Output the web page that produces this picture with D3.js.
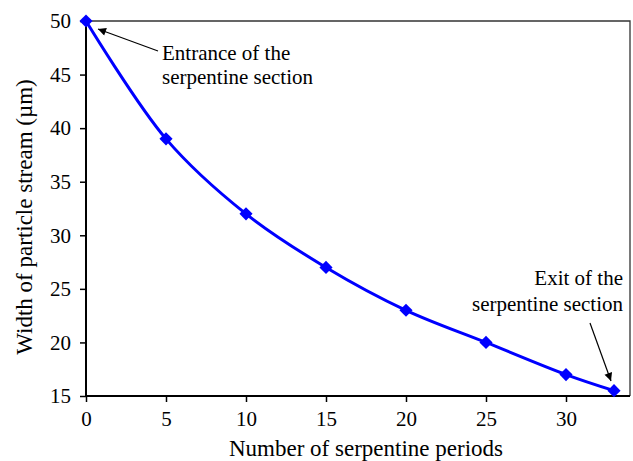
<!DOCTYPE html>
<html>
<head>
<meta charset="utf-8">
<script src="https://cdn.jsdelivr.net/npm/d3@7"></script>
</head>
<body style="margin:0">
<script>
const periods = [0, 5, 10, 15, 20, 25, 30, 33];
const widths = [50, 39, 32, 27, 23, 20, 17, 15.5];
const xTicks = [0, 5, 10, 15, 20, 25, 30];
const yTicks = [15, 20, 25, 30, 35, 40, 45, 50];

const W = 633, H = 461;
const FONT = "'Times New Roman'";
const margin = {top: 21, right: 3, bottom: 65, left: 86};
const width = W - margin.left - margin.right;
const height = H - margin.top - margin.bottom;

const x = d3.scaleLinear().domain([0, 34]).range([0, width]);
const y = d3.scaleLinear().domain([15, 50]).range([height, 0]);

const svg = d3.select("body").append("svg")
    .attr("width", W).attr("height", H);

svg.append("marker")
    .attr("id", "arrow")
    .attr("viewBox", "0 0 10 10")
    .attr("refX", 10).attr("refY", 5)
    .attr("markerWidth", 10).attr("markerHeight", 8)
    .attr("markerUnits", "userSpaceOnUse")
    .attr("orient", "auto")
    .append("path").attr("d", "M0,0L10,5L0,10Z").attr("fill", "#000");

const g = svg.append("g")
    .attr("transform", "translate(" + margin.left + "," + margin.top + ")");

// plot frame (top and right)
g.append("path")
    .attr("d", "M0,0H" + width + "V" + height)
    .attr("fill", "none").attr("stroke", "#333").attr("stroke-width", 1.3);

const xAxis = g.append("g")
    .attr("transform", "translate(0," + height + ")")
    .call(d3.axisBottom(x).tickValues(xTicks).tickSize(6).tickSizeOuter(0));
const yAxis = g.append("g")
    .call(d3.axisLeft(y).tickValues(yTicks).tickSize(6).tickSizeOuter(0));

[xAxis, yAxis].forEach(a => {
    a.attr("font-family", null).attr("font-size", null);
    a.select(".domain").attr("stroke", "#000").attr("stroke-width", 2);
    a.selectAll(".tick line").attr("stroke", "#000").attr("stroke-width", 1.5);
    a.selectAll(".tick text").attr("fill", "#000")
        .attr("font-family", FONT).attr("font-size", 21);
});
xAxis.selectAll(".tick text").attr("dy", 0).attr("y", 30);
yAxis.selectAll(".tick text").attr("x", -15);
xAxis.select(".domain").attr("d", "M0,0H" + width);
yAxis.select(".domain").attr("d", "M0,0V" + height);

const line = d3.line()
    .x((d, i) => x(periods[i]))
    .y(d => y(d))
    .curve(d3.curveCatmullRom.alpha(0.5));

g.append("path")
    .datum(widths)
    .attr("d", line)
    .attr("fill", "none")
    .attr("stroke", "#0000ff")
    .attr("stroke-width", 3);

g.selectAll(".pt")
    .data(widths)
    .join("path")
    .attr("class", "pt")
    .attr("d", d3.symbol().type(d3.symbolDiamond2).size(110))
    .attr("transform", (d, i) => "translate(" + x(periods[i]) + "," + y(d) + ")")
    .attr("fill", "#0000ff");

// annotations
function label(parent, px, py, txt, size, anchor) {
    return parent.append("text")
        .attr("x", px).attr("y", py)
        .attr("font-family", FONT)
        .attr("font-size", size)
        .attr("text-anchor", anchor)
        .text(txt);
}
label(g, 76, 39, "Entrance of the", 21, "start");
label(g, 76, 63, "serpentine section", 21, "start");
g.append("line")
    .attr("x1", 72).attr("y1", 30).attr("x2", 12).attr("y2", 8)
    .attr("stroke", "#000").attr("stroke-width", 1.2)
    .attr("marker-end", "url(#arrow)");

label(g, 537, 264, "Exit of the", 21, "end");
label(g, 537, 290, "serpentine section", 21, "end");
g.append("line")
    .attr("x1", 504).attr("y1", 302).attr("x2", 525).attr("y2", 360)
    .attr("stroke", "#000").attr("stroke-width", 1.2)
    .attr("marker-end", "url(#arrow)");

// axis titles
label(svg, 366, 456, "Number of serpentine periods", 23, "middle");
label(svg, 0, 0, "Width of particle stream (\u00b5m)", 23, "middle")
    .attr("transform", "translate(32,217) rotate(-90)");
</script>
</body>
</html>
